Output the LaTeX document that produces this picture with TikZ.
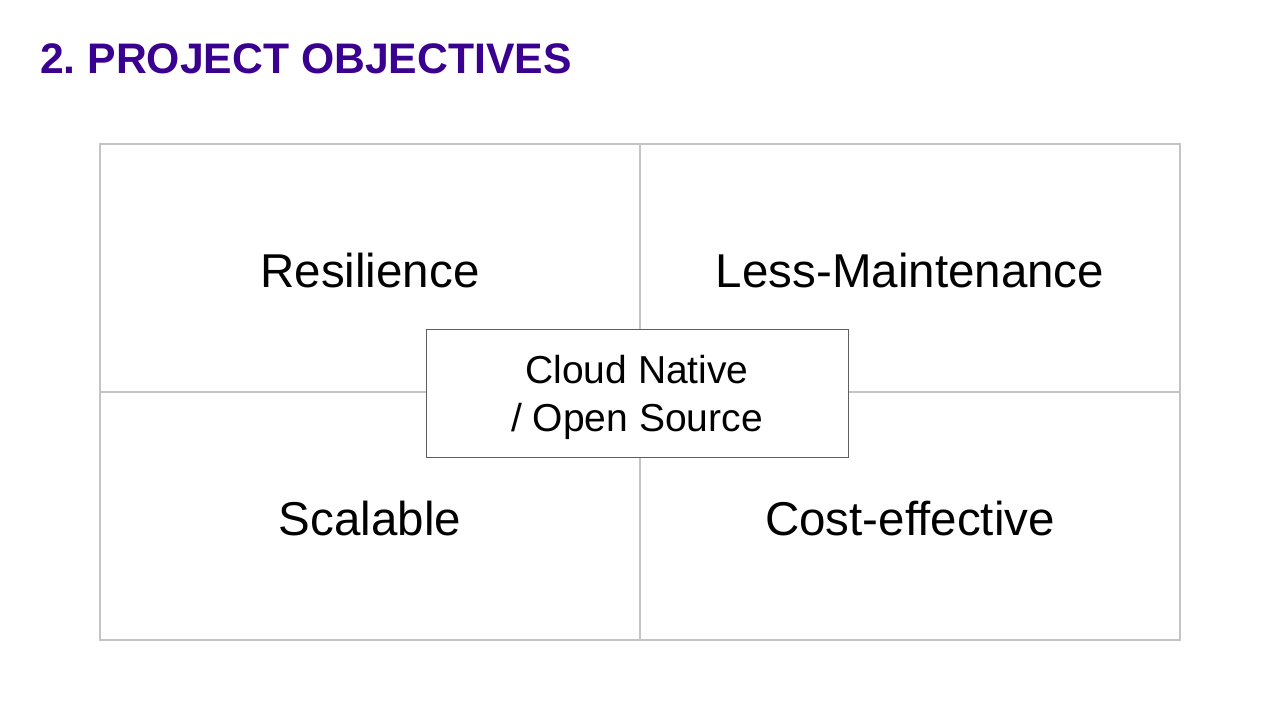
\documentclass[tikz,border=0pt]{standalone}
\usepackage{fontspec}
\setmainfont{Liberation Sans}
\definecolor{titlepurple}{HTML}{3A0090}
\definecolor{gridgray}{HTML}{C4C4C4}
\definecolor{boxgray}{HTML}{5E5E5E}
\begin{document}
\frenchspacing
\begin{tikzpicture}[x=1pt,y=-1pt,
  quad/.style={draw=gridgray, line width=1.5pt, minimum width=540pt, minimum height=248pt, inner sep=0pt, font=\fontsize{47.5}{56}\selectfont, text=black, text height=38pt, text depth=0pt},
  centerbox/.style={draw=boxgray, line width=1pt, fill=white, minimum width=422pt, minimum height=128pt, align=center, inner sep=0pt, font=\fontsize{39}{48}\selectfont, text=black, text depth=0pt},
  titletext/.style={anchor=base west, inner sep=0pt, text=titlepurple, font=\fontsize{42.7}{50}\selectfont\bfseries}]
\useasboundingbox (0,0) rectangle (1280,720);
\fill[white] (0,0) rectangle (1280,720);
\node[titletext] (title) at (40,73) {2. PROJECT OBJECTIVES};
\node[quad] (q1) at (370,268) {Resilience};
\node[quad] (q2) at (910,268) {Less-Maintenance};
\node[quad] (q3) at (370,516) {Scalable};
\node[quad] (q4) at (910,516) {Cost-effective};
\node[centerbox] (center) at (637,393) {Cloud Native\\/ Open Source};
\end{tikzpicture}
\end{document}
